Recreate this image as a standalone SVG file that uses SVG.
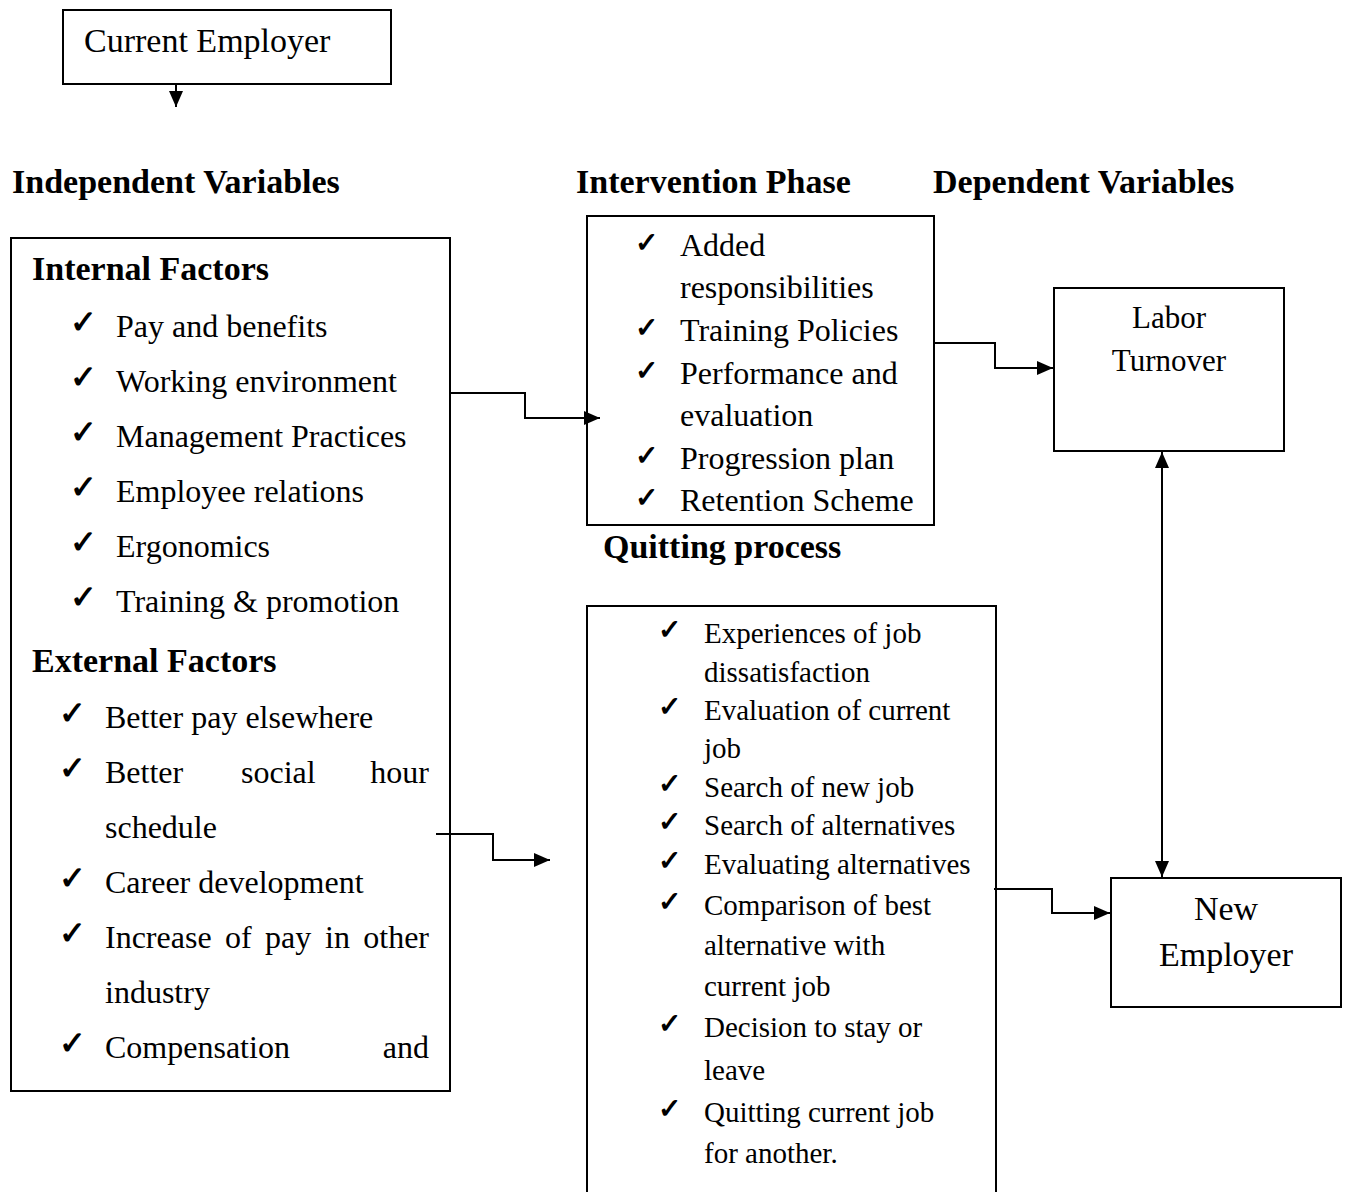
<svg xmlns="http://www.w3.org/2000/svg" width="1347" height="1192" viewBox="0 0 1347 1192">
<style>
text{font-family:"Liberation Serif","Times New Roman",serif;fill:#000}
.h{font-weight:bold;font-size:34px}
.t{font-size:32px}
.q{font-size:29px}
.ck{font-family:"DejaVu Sans",sans-serif;font-size:32px;font-weight:bold}
.ck2{font-family:"DejaVu Sans",sans-serif;font-size:28px;font-weight:bold}
.box{fill:#fff;stroke:#000;stroke-width:2}
.c{fill:none;stroke:#000;stroke-width:2}
</style>
<defs>
<marker id="ah" markerUnits="userSpaceOnUse" markerWidth="17" markerHeight="16" refX="16" refY="8" orient="auto-start-reverse" viewBox="0 0 17 16">
<path d="M0,1 L16,8 L0,15 z" fill="#000"/>
</marker>
</defs>
<rect width="1347" height="1192" fill="#fff"/>

<text class="h" x="12" y="193">Independent Variables</text>
<text class="h" x="576" y="193">Intervention Phase</text>
<text class="h" x="933" y="193">Dependent Variables</text>
<text class="h" x="603" y="558">Quitting process</text>

<g id="current-employer">
<rect class="box" x="63" y="10" width="328" height="74"/>
<text x="84" y="52" style="font-size:34px">Current Employer</text>
</g>

<g id="factors">
<rect class="box" x="11" y="238" width="439" height="853"/>
<text class="h" x="32" y="280">Internal Factors</text>
<g class="ck">
<text x="70" y="333">✓</text><text x="70" y="388">✓</text><text x="70" y="443">✓</text><text x="70" y="498">✓</text><text x="70" y="553">✓</text><text x="70" y="608">✓</text>
<text x="59" y="724">✓</text><text x="59" y="779">✓</text><text x="59" y="889">✓</text><text x="59" y="944">✓</text><text x="59" y="1054">✓</text>
</g>
<g class="t">
<text x="116" y="337">Pay and benefits</text>
<text x="116" y="392">Working environment</text>
<text x="116" y="447">Management Practices</text>
<text x="116" y="502">Employee relations</text>
<text x="116" y="557">Ergonomics</text>
<text x="116" y="612">Training &amp; promotion</text>
</g>
<text class="h" x="32" y="672">External Factors</text>
<g class="t">
<text x="105" y="728">Better pay elsewhere</text>
<text x="105" y="783">Better</text><text x="241" y="783">social</text><text x="429" y="783" text-anchor="end">hour</text>
<text x="105" y="838">schedule</text>
<text x="105" y="893">Career development</text>
<text x="105" y="948">Increase</text><text x="225" y="948">of</text><text x="265" y="948">pay</text><text x="325" y="948">in</text><text x="429" y="948" text-anchor="end">other</text>
<text x="105" y="1003">industry</text>
<text x="105" y="1058">Compensation</text><text x="429" y="1058" text-anchor="end">and</text>
</g>
</g>

<g id="intervention">
<rect class="box" x="587" y="216" width="347" height="309"/>
<g class="ck2">
<text x="635" y="252">✓</text><text x="635" y="337">✓</text><text x="635" y="380">✓</text><text x="635" y="465">✓</text><text x="635" y="507">✓</text>
</g>
<g class="t">
<text x="680" y="256">Added</text>
<text x="680" y="298">responsibilities</text>
<text x="680" y="341">Training Policies</text>
<text x="680" y="384">Performance and</text>
<text x="680" y="426">evaluation</text>
<text x="680" y="469">Progression plan</text>
<text x="680" y="511">Retention Scheme</text>
</g>
</g>

<g id="quitting">
<rect class="box" x="587" y="606" width="409" height="600"/>
<g class="ck2">
<text x="658" y="639">✓</text><text x="658" y="716">✓</text><text x="658" y="793">✓</text><text x="658" y="831">✓</text><text x="658" y="870">✓</text><text x="658" y="911">✓</text><text x="658" y="1033">✓</text><text x="658" y="1118">✓</text>
</g>
<g class="q">
<text x="704" y="643">Experiences of job</text>
<text x="704" y="682">dissatisfaction</text>
<text x="704" y="720">Evaluation of current</text>
<text x="704" y="758">job</text>
<text x="704" y="797">Search of new job</text>
<text x="704" y="835">Search of alternatives</text>
<text x="704" y="874">Evaluating alternatives</text>
<text x="704" y="915">Comparison of best</text>
<text x="704" y="955">alternative with</text>
<text x="704" y="996">current job</text>
<text x="704" y="1037">Decision to stay or</text>
<text x="704" y="1080">leave</text>
<text x="704" y="1122">Quitting current job</text>
<text x="704" y="1163">for another.</text>
</g>
</g>

<g id="labor-turnover">
<rect class="box" x="1054" y="288" width="230" height="163"/>
<text x="1169" y="328" text-anchor="middle" style="font-size:31px">Labor</text>
<text x="1169" y="371" text-anchor="middle" style="font-size:31px">Turnover</text>
</g>

<g id="new-employer">
<rect class="box" x="1111" y="878" width="230" height="129"/>
<text x="1226" y="920" text-anchor="middle" style="font-size:34px">New</text>
<text x="1226" y="966" text-anchor="middle" style="font-size:34px">Employer</text>
</g>

<g id="connectors">
<path class="c" d="M176,84 V107" marker-end="url(#ah)"/>
<path class="c" d="M450,393 H525 V418 H600" marker-end="url(#ah)"/>
<path class="c" d="M436,834 H493 V860 H550" marker-end="url(#ah)"/>
<path class="c" d="M934,343 H995 V368 H1053" marker-end="url(#ah)"/>
<path class="c" d="M994,889 H1052 V913 H1110" marker-end="url(#ah)"/>
<path class="c" d="M1162,452 V877" marker-start="url(#ah)" marker-end="url(#ah)"/>
</g>
</svg>
